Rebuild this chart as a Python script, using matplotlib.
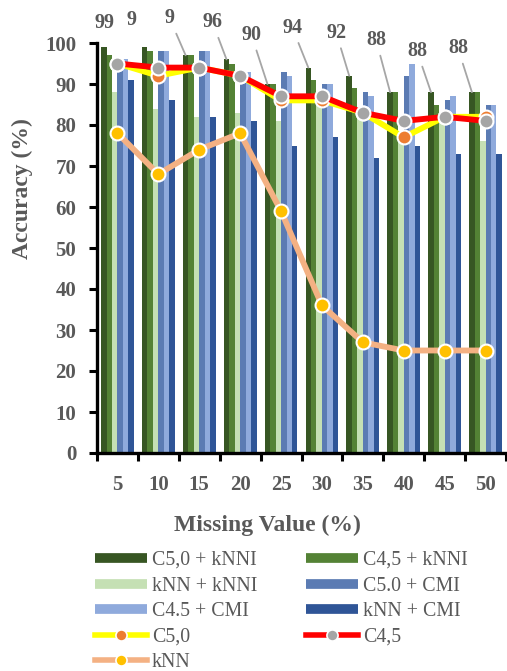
import matplotlib
matplotlib.use("Agg")
import matplotlib.pyplot as plt
from matplotlib.lines import Line2D
import numpy as np

plt.rcParams['font.family'] = ['Liberation Serif', 'DejaVu Serif']

missing = ['5', '10', '15', '20', '25', '30', '35', '40', '45', '50']

c50_knni = [99, 99, 97, 96, 90, 94, 92, 88, 88, 88]
c45_knni = [97, 98, 97, 95, 90, 91, 89, 88, 85, 88]
knn_knni = [88, 84, 82, 83, 81, 86, 82, 78, 81, 76]
c50_cmi = [96, 98, 98, 93, 93, 90, 88, 92, 86, 85]
c45_cmi = [96, 98, 98, 93, 92, 90, 87, 95, 87, 85]
knn_cmi = [91, 86, 82, 81, 75, 77, 72, 75, 73, 73]

c50 = [95, 92, 94, 92, 86, 86, 83, 77, 82, 82]
c45 = [95, 94, 94, 92, 87, 87, 83, 81, 82, 81]
knn = [78, 68, 74, 78, 59, 36, 27, 25, 25, 25]

# labels that only show their first digit
label_cut = [False, True, True, False, False, False, False, False, False, False]

GREY = '#595959'

fig = plt.figure(figsize=(5.07, 6.71), dpi=100)
ax = fig.add_axes([97 / 507, 1 - 453 / 671, 409 / 507, 410 / 671])

x = np.arange(len(missing))
w = 0.8 / 6
bar_series = [
    (c50_knni, '#375623', 'C5,0 + kNNI'),
    (c45_knni, '#548235', 'C4,5 + kNNI'),
    (knn_knni, '#C5E0B4', 'kNN + kNNI'),
    (c50_cmi, '#5B7BB3', 'C5.0 + CMI'),
    (c45_cmi, '#8FAADC', 'C4.5 + CMI'),
    (knn_cmi, '#2F5597', 'kNN + CMI'),
]
for i, (vals, col, name) in enumerate(bar_series):
    ax.bar(x - 0.4 + w * (i + 0.5), vals, w, color=col, linewidth=0, zorder=2)

ax.plot(x, c50, color='#FFFF00', lw=4.2, marker='o', ms=10, mfc='#ED7D31',
        mec='white', mew=1.5, zorder=4)
ax.plot(x, c45, color='#FF0000', lw=4.2, marker='o', ms=10, mfc='#A5A5A5',
        mec='white', mew=1.5, zorder=5)
ax.plot(x, knn, color='#F4B183', lw=4.2, marker='o', ms=10, mfc='#FFC000',
        mec='white', mew=1.5, zorder=6)

# value labels on the C5,0 + kNNI bars, most with a leader line
label_off = [(1, 24), (-13, 27), (-16, 37), (-14, 37), (-16, 49),
             (-16, 40), (-13, 43), (-14, 52), (-14, 41), (-14, 44)]
for i, v in enumerate(c50_knni):
    txt = str(v)[:1] if label_cut[i] else str(v)
    dx, dy = label_off[i]
    props = None
    if dy > 30:
        props = dict(arrowstyle='-', color='#A6A6A6', lw=1.3, shrinkA=2, shrinkB=0)
    ax.annotate(txt, xy=(x[i] - 0.4 + w / 2, v), xytext=(dx, dy),
                textcoords='offset pixels', ha='center', va='center',
                fontsize=14.5, fontweight='bold', color=GREY,
                arrowprops=props, annotation_clip=False, zorder=7)

ax.set_xlim(-0.5, len(missing) - 0.5)
ax.set_ylim(0, 100)
ax.set_yticks(range(0, 101, 10))
ax.set_xticks(np.arange(-0.5, len(missing), 1))
ax.set_xticklabels([])
ax.set_xticks(x, minor=True)
ax.set_xticklabels(missing, minor=True)
ax.tick_params(axis='x', which='major', length=6, width=2.2, color='black')
ax.tick_params(axis='x', which='minor', length=0, pad=16, labelsize=15,
               labelcolor=GREY)
ax.tick_params(axis='y', length=6, width=2.2, pad=9, labelsize=15,
               labelcolor=GREY)
for lab in ax.get_xticklabels(minor=True) + ax.get_yticklabels():
    lab.set_fontweight('bold')

for s in ['top', 'right']:
    ax.spines[s].set_visible(False)
for s in ['left', 'bottom']:
    ax.spines[s].set_linewidth(2.4)

fig.text(22 / 507, 1 - 189 / 671, 'Accuracy (%)', rotation=90, ha='center',
         va='center', fontsize=17, fontweight='bold', color=GREY)
fig.text(267 / 507, 1 - 525 / 671, 'Missing Value (%)', ha='center',
         va='center', fontsize=17, fontweight='bold', color=GREY)

handles = {}
for vals, col, name in bar_series:
    handles[name] = Line2D([0], [0], color=col, lw=7, solid_capstyle='butt')
handles['C5,0'] = Line2D([0], [0], color='#FFFF00', lw=4, marker='o', ms=8,
                         mfc='#ED7D31', mec='white', mew=1.2)
handles['C4,5'] = Line2D([0], [0], color='#FF0000', lw=4, marker='o', ms=8,
                         mfc='#A5A5A5', mec='white', mew=1.2)
handles['kNN'] = Line2D([0], [0], color='#F4B183', lw=4, marker='o', ms=8,
                        mfc='#FFC000', mec='white', mew=1.2)

col1 = ['C5,0 + kNNI', 'kNN + kNNI', 'C4.5 + CMI', 'C5,0', 'kNN']
col2 = ['C4,5 + kNNI', 'C5.0 + CMI', 'kNN + CMI', 'C4,5']
leg_kw = dict(loc='upper left', frameon=False, fontsize=14.3, labelcolor=GREY,
              handlelength=2.6, handletextpad=0.27, labelspacing=0.33,
              borderpad=0, borderaxespad=0, numpoints=1)
leg1 = fig.legend([handles[n] for n in col1], col1,
                  bbox_to_anchor=(95 / 507, 1 - 551 / 671), **leg_kw)
leg2 = fig.legend([handles[n] for n in col2], col2,
                  bbox_to_anchor=(306 / 507, 1 - 551 / 671), **leg_kw)

fig.savefig('out.png', dpi=100)
